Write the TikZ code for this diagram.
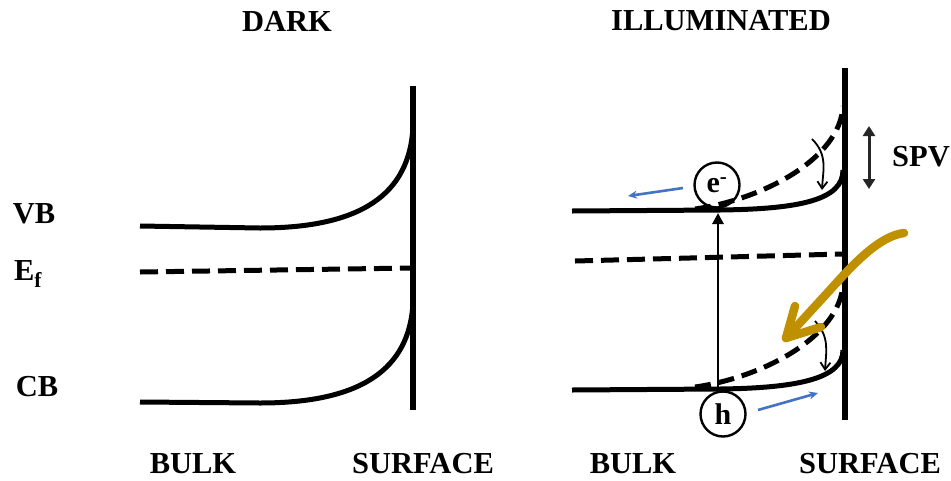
\documentclass[tikz,border=0pt]{standalone}
\usepackage{fontspec}
\setmainfont{Liberation Serif}
\usetikzlibrary{arrows.meta}
\definecolor{gold}{HTML}{BF9000}
\definecolor{bluearr}{HTML}{4472C4}
\tikzset{
  lbl/.style={font=\fontsize{30.5}{30.5}\selectfont\bfseries, inner sep=0pt},
  band/.style={line width=5pt},
  efline/.style={line width=5pt, dash pattern=on 18pt off 8pt},
  dband/.style={line width=5pt, dash pattern=on 16pt off 8pt},
  surf/.style={line width=5.5pt},
  thinarr/.style={line width=1.8pt, -{Straight Barb[length=7pt,width=10pt]}},
  bluea/.style={bluearr, line width=2.6pt, -{Stealth[length=9pt,width=8pt]}},
  carrier/.style={circle, draw, line width=2.4pt, fill=white, minimum size=45pt, inner sep=0pt, font=\fontsize{30}{30}\selectfont\bfseries},
  lightray/.style={gold, line cap=round, line join=round},
}
\begin{document}
\begin{tikzpicture}[x=1pt,y=-1pt]
\useasboundingbox (0,0) rectangle (951,480);
\fill[white] (0,0) rectangle (951,480);

% titles and labels
\node[lbl] (dark) at (287,21) {DARK};
\node[lbl] (illum) at (721,21) {ILLUMINATED};
\node[lbl] (vb) at (34,214) {VB};
\node[lbl] (ef) at (28,274) {E\textsubscript{f}};
\node[lbl] (cb) at (37,387) {CB};
\node[lbl] (bulkL) at (193,464) {BULK};
\node[lbl] (surfL) at (423,464) {SURFACE};
\node[lbl] (bulkR) at (633,464) {BULK};
\node[lbl] (surfR) at (870,464) {SURFACE};
\node[lbl, anchor=west] (spv) at (892,157) {SPV};

% ---------- DARK panel ----------
\coordinate (sLt) at (413,86);
\coordinate (sLb) at (413,410);
\draw[surf] (sLt) -- (sLb);
\draw[band] (140,226) -- (260,228) .. controls (360,228) and (410,195) .. (413,126);
\draw[efline] (140,272) -- (413,268);
\draw[band] (140,402) -- (260,403) .. controls (360,403) and (410,370) .. (413,302);

% ---------- ILLUMINATED panel ----------
\coordinate (sRt) at (845,68);
\coordinate (sRb) at (845,420);

% carriers (behind bands)
\node[carrier] (e) at (717,185) {e\textsuperscript{-}};
\node[carrier] (h) at (723,414) {h};

\draw[surf] (sRt) -- (sRb);
% VB
\draw[band] (572,211) -- (720,210) .. controls (800,209) and (843,200) .. (843,170);
\draw[dband] (695,209) .. controls (760,200) and (840,160) .. (843,106);
% Ef
\draw[efline] (575,261) -- (843,254);
% CB
\draw[band] (572,390) -- (720,389) .. controls (800,388) and (843,378) .. (843,350);
\draw[dband] (695,387) .. controls (760,378) and (840,338) .. (843,284);

% excitation arrow
\coordinate (excB) at (718,390);
\coordinate (excT) at (718,213);
\draw[line width=2.8pt, -{Triangle[length=11pt,width=11pt]}] (excB) -- (excT);

% relaxation arrows
\draw[thinarr] (812,139) .. controls (828,155) and (823,170) .. (822,190);
\draw[thinarr] (815,321) .. controls (830,337) and (826,352) .. (825,371);

% blue arrows
\coordinate (bl1s) at (683,188);
\coordinate (bl1e) at (628,196);
\draw[bluea] (bl1s) -- (bl1e);
\coordinate (bl2s) at (758,410);
\coordinate (bl2e) at (818,393);
\draw[bluea] (bl2s) -- (bl2e);

% SPV arrow
\coordinate (spvT) at (869,126);
\coordinate (spvB) at (869,189);
\draw[line width=3pt, black!85, {Triangle[length=10pt,width=12pt]}-{Triangle[length=10pt,width=12pt]}] (spvT) -- (spvB);

% light arrow
\draw[lightray, line width=8.5pt]
  (904,233) .. controls (880,236) and (855,262) .. (830,290) -- (786,338);
\draw[lightray, line width=8.5pt]
  (795,306) -- (786,338) -- (821,327);
\end{tikzpicture}
\end{document}
